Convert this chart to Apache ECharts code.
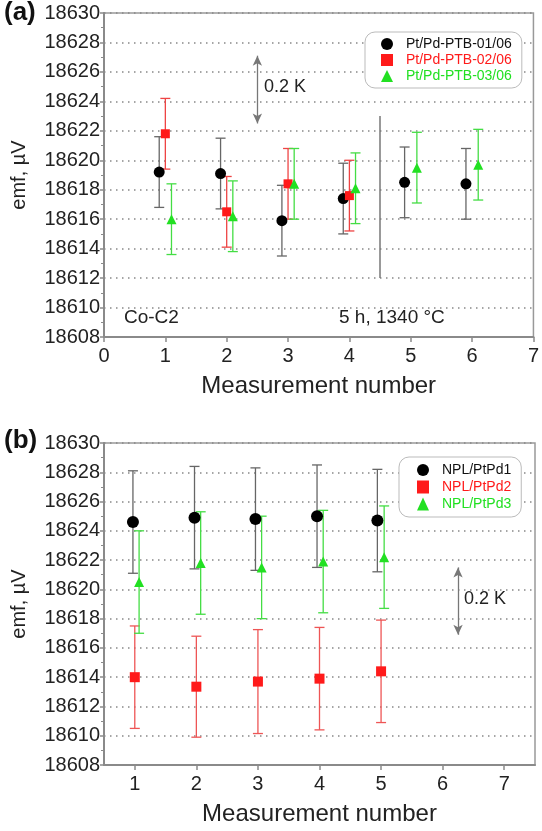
<!DOCTYPE html>
<html><head><meta charset="utf-8">
<script src="https://cdn.jsdelivr.net/npm/echarts@6/dist/echarts.min.js"></script>
<style>html,body{margin:0;padding:0;background:#fff}#c{width:542px;height:831px}</style>
</head><body><div id="c"></div>
<script>
// ---- Panel (a) data ----
const aNames = ['Pt/Pd-PTB-01/06', 'Pt/Pd-PTB-02/06', 'Pt/Pd-PTB-03/06'];
const aX1 = [0.9, 1.9, 2.9, 3.9, 4.9, 5.9];
const aY1 = [18619.2, 18619.1, 18615.9, 18617.4, 18618.5, 18618.4];
const aE1 = [2.4, 2.4, 2.4, 2.4, 2.4, 2.4];
const aX2 = [1, 2, 3, 4];
const aY2 = [18621.8, 18616.5, 18618.4, 18617.6];
const aE2 = [2.4, 2.4, 2.4, 2.4];
const aX3 = [1.1, 2.1, 3.1, 4.1, 5.1, 6.1];
const aY3 = [18616.0, 18616.2, 18618.4, 18618.1, 18619.5, 18619.7];
const aE3 = [2.4, 2.4, 2.4, 2.4, 2.4, 2.4];
const aArrow = [[2.5, 18627.1], [2.5, 18622.5]];
const aDivider = [[4.5, 18612], [4.5, 18623]];

// ---- Panel (b) data ----
const bNames = ['NPL/PtPd1', 'NPL/PtPd2', 'NPL/PtPd3'];
const bX1 = [0.97, 1.97, 2.96, 3.96, 4.94];
const bY1 = [18624.6, 18624.9, 18624.8, 18625.0, 18624.7];
const bE1 = [3.5, 3.5, 3.5, 3.5, 3.5];
const bX2 = [1, 2, 3, 4, 5];
const bY2 = [18614.0, 18613.35, 18613.7, 18613.9, 18614.4];
const bE2 = [3.5, 3.45, 3.55, 3.5, 3.5];
const bX3 = [1.07, 2.07, 3.06, 4.06, 5.05];
const bY3 = [18620.5, 18621.8, 18621.5, 18621.9, 18622.2];
const bE3 = [3.5, 3.5, 3.5, 3.5, 3.5];
const bArrow = [[6.25, 18621.5], [6.25, 18616.9]];

// ---- Axes ----
const yMin = 18608, yMax = 18630, yStep = 2;
const aXTicks = [0, 1, 2, 3, 4, 5, 6, 7];
const bXTicks = [1, 2, 3, 4, 5, 6, 7];

const FONT = 'Liberation Sans, Arial, sans-serif';
const AX = '#8a8a8a';

function errRender(color, cap) {
  return function (params, api) {
    const x = api.value(0), lo = api.value(1), hi = api.value(2);
    const a = api.coord([x, lo]), b = api.coord([x, hi]);
    const st = { stroke: color, lineWidth: 1.3 };
    return { type: 'group', children: [
      { type: 'line', shape: { x1: a[0], y1: a[1], x2: b[0], y2: b[1] }, style: st },
      { type: 'line', shape: { x1: a[0] - cap, y1: a[1], x2: a[0] + cap, y2: a[1] }, style: st },
      { type: 'line', shape: { x1: b[0] - cap, y1: b[1], x2: b[0] + cap, y2: b[1] }, style: st }
    ]};
  };
}
function errData(xs, ys, es) { return xs.map((x, i) => [x, ys[i] - es[i], ys[i] + es[i]]); }
function ptData(xs, ys) { return xs.map((x, i) => [x, ys[i]]); }

function errSeries(idx, xs, ys, es, color) {
  return { type: 'custom', name: 'err' + idx, xAxisIndex: idx, yAxisIndex: idx,
    renderItem: errRender(color, 5), encode: { x: 0, y: [1, 2] },
    data: errData(xs, ys, es), z: 2, silent: true };
}
function scat(idx, name, xs, ys, symbol, size, color, extra) {
  return Object.assign({ type: 'scatter', name: name, xAxisIndex: idx, yAxisIndex: idx,
    symbol: symbol, symbolSize: size, itemStyle: { color: color, opacity: 1 },
    data: ptData(xs, ys), z: 3 }, extra || {});
}
function arrowLine(pts) {
  return { silent: true, symbol: ['arrow', 'arrow'], symbolSize: [7, 10],
    lineStyle: { color: '#777', width: 1.3, type: 'solid' }, label: { show: false },
    data: [[{ coord: pts[0] }, { coord: pts[1] }]] };
}

function yAxis(idx) {
  return { type: 'value', gridIndex: idx, min: yMin, max: yMax, interval: yStep,
    name: 'emf, µV', nameLocation: 'middle', nameGap: 75,
    nameTextStyle: { fontSize: 20, color: '#222', fontFamily: FONT },
    axisLine: { show: true, lineStyle: { color: AX, width: 2 } },
    axisTick: { show: true, inside: false, length: 4, lineStyle: { color: AX, width: 1.5 } },
    minorTick: { show: true, splitNumber: 2, length: 3, lineStyle: { color: AX, width: 1 } },
    axisLabel: { fontSize: 20, color: '#222', fontFamily: FONT, margin: 4, formatter: v => String(v) },
    splitLine: { show: true, lineStyle: { color: '#888', width: 1.5, type: [1.5, 4.5] } } };
}
function xAxis(idx, min, max, ticks) {
  return { type: 'value', gridIndex: idx, min: min, max: max,
    name: 'Measurement number', nameLocation: 'middle', nameGap: 37,
    nameTextStyle: { fontSize: 24, color: '#222', fontFamily: FONT },
    axisLine: { show: true, lineStyle: { color: AX, width: 2 } },
    axisTick: { show: true, inside: false, length: 5, customValues: ticks, lineStyle: { color: AX, width: 1.5 } },
    axisLabel: { fontSize: 20, color: '#222', fontFamily: FONT, margin: 9, customValues: ticks },
    splitLine: { show: false } };
}
function legend(names, colors, icons, pos, h) {
  return Object.assign({ orient: 'vertical', itemWidth: 12, itemHeight: h, itemGap: 2,
    padding: [5, 10, 5, 16], borderColor: '#bbb', borderWidth: 1, borderRadius: 10,
    backgroundColor: '#fff', selectedMode: false,
    data: names.map((n, i) => ({ name: n, icon: icons[i], textStyle: { color: colors[i], fontSize: 14, lineHeight: 14, fontFamily: FONT, padding: [0, 0, 0, 8] } })) }, pos);
}

const red = '#ff1a1a', green = '#22e022';
const option = {
  animation: false,
  backgroundColor: '#fff',
  grid: [
    { left: 104, top: 13, width: 431, height: 324, show: true, borderColor: '#999', borderWidth: 1.5 },
    { left: 104, top: 443, width: 431, height: 322, show: true, borderColor: '#999', borderWidth: 1.5 }
  ],
  xAxis: [xAxis(0, 0, 7, aXTicks), xAxis(1, 0.5, 7.5, bXTicks)],
  yAxis: [yAxis(0), yAxis(1)],
  legend: [
    legend(aNames, ['#111', red, green], ['circle', 'rect', 'triangle'], { left: 365, top: 32 }, 12),
    legend(bNames, ['#111', red, green], ['circle', 'rect', 'triangle'], { left: 399, top: 457, itemGap: 3, padding: [6, 10, 6, 18] }, 13)
  ],
  graphic: [
    { type: 'text', left: 4, top: 0, style: { text: '(a)', fontSize: 26, fontWeight: 'bold', fill: '#111', fontFamily: FONT } },
    { type: 'text', left: 4, top: 428, style: { text: '(b)', fontSize: 26, fontWeight: 'bold', fill: '#111', fontFamily: FONT } },
    { type: 'text', left: 264, top: 78, style: { text: '0.2 K', fontSize: 18, fill: '#222', fontFamily: FONT } },
    { type: 'text', left: 124, top: 308, style: { text: 'Co-C2', fontSize: 19, fill: '#222', fontFamily: FONT } },
    { type: 'text', left: 339, top: 308, style: { text: '5 h, 1340 °C', fontSize: 19, fill: '#222', fontFamily: FONT } },
    { type: 'text', left: 464, top: 590, style: { text: '0.2 K', fontSize: 18, fill: '#222', fontFamily: FONT } }
  ],
  series: [
    errSeries(0, aX1, aY1, aE1, '#666'),
    errSeries(0, aX2, aY2, aE2, '#ee4444'),
    errSeries(0, aX3, aY3, aE3, '#44dd44'),
    scat(0, aNames[0], aX1, aY1, 'circle', 11, '#000', {
      markLine: {
        silent: true, symbol: ['none', 'none'], label: { show: false },
        lineStyle: { color: '#777', width: 1.5, type: 'solid' },
        data: [[{ coord: aDivider[0] }, { coord: aDivider[1] }]]
      }
    }),
    scat(0, aNames[1], aX2, aY2, 'rect', 9, red, { markLine: arrowLine(aArrow) }),
    scat(0, aNames[2], aX3, aY3, 'triangle', 10, green),
    errSeries(1, bX1, bY1, bE1, '#666'),
    errSeries(1, bX2, bY2, bE2, '#ee5555'),
    errSeries(1, bX3, bY3, bE3, '#44dd44'),
    scat(1, bNames[0], bX1, bY1, 'circle', 12, '#000'),
    scat(1, bNames[1], bX2, bY2, 'rect', 10, red, { markLine: arrowLine(bArrow) }),
    scat(1, bNames[2], bX3, bY3, 'triangle', 10, green)
  ]
};
const chart = echarts.init(document.getElementById('c'), null, { renderer: 'canvas' });
chart.setOption(option);
</script>
</body></html>
